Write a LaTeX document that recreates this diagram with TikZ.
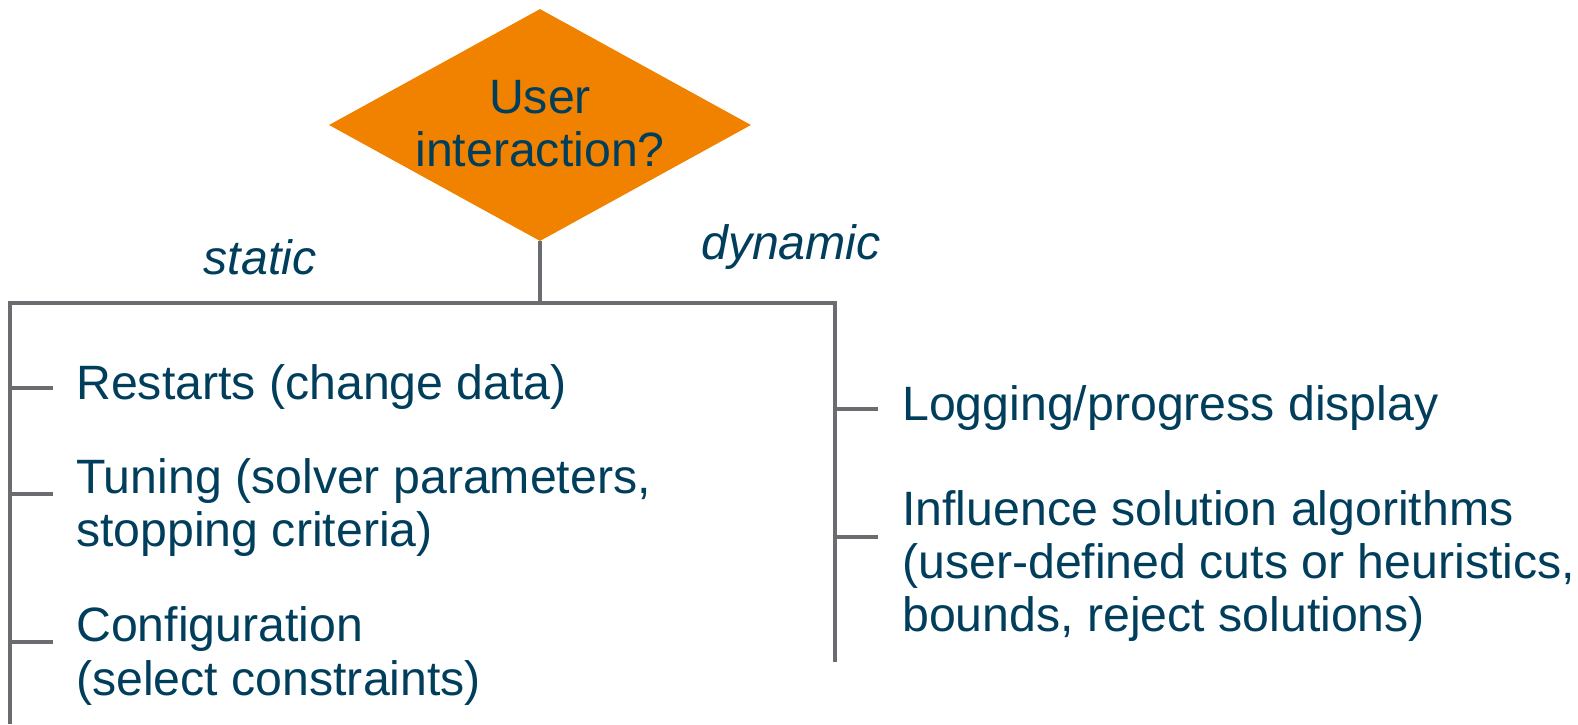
\documentclass[tikz,border=0pt]{standalone}
\usepackage{fontspec}
\setmainfont{Liberation Sans}
\usetikzlibrary{shapes.geometric,positioning}
\definecolor{itemblue}{RGB}{0,62,92}
\definecolor{decorange}{RGB}{240,130,0}
\definecolor{treegray}{RGB}{108,108,112}
\tikzset{
  decision/.style={diamond,fill=decorange,inner sep=0pt,
    minimum width=10.55cm,minimum height=5.8cm},
  item/.style={anchor=west,inner sep=0pt,align=left,text=itemblue,
    font=\fontsize{34.3}{37.7}\selectfont},
  branch/.style={draw=treegray,line width=0.085cm}
}

\begin{document}
\begin{tikzpicture}[
  x=0.025cm,y=-0.025cm,
  kind/.style={item,anchor=center,font=\fontsize{34.3}{37.7}\selectfont\itshape}
]
  \useasboundingbox (0,0) rectangle (1578,724);
  \node[decision] (interaction) at (540,125) {};
  \node[item,anchor=center,align=center] (question) at (540,124) {User\\interaction?};
  \node[kind] (static) at (260,257) {static};
  \node[kind] (dynamic) at (791,247) {dynamic};
  \node[item] (restarts) at (76,387) {Restarts (change data)};
  \node[item] (tuning) at (76,508) {Tuning (solver parameters,\\stopping criteria)};
  \node[item] (configuration) at (76,656) {Configuration\\(select constraints)};
  \node[item] (logging) at (902,408) {Logging/progress display};
  \node[item] (influence) at (902,566) {Influence solution algorithms\\(user-defined cuts or heuristics,\\bounds, reject solutions)};
  \coordinate (split) at (540,303);
  \coordinate (staticend) at (10,724);
  \coordinate (dynamicend) at (835,662);
  \coordinate (restartstick) at (53,388);
  \coordinate (tuningtick) at (53,494);
  \coordinate (configurationtick) at (53,642);
  \coordinate (loggingtick) at (878,409);
  \coordinate (influencetick) at (878,537);
  \draw[branch] (interaction.south) -- (split);
  \draw[branch] (staticend) |- (split) -| (dynamicend);
  \draw[branch] (staticend |- restartstick) -- (restartstick);
  \draw[branch] (staticend |- tuningtick) -- (tuningtick);
  \draw[branch] (staticend |- configurationtick) -- (configurationtick);
  \draw[branch] (dynamicend |- loggingtick) -- (loggingtick);
  \draw[branch] (dynamicend |- influencetick) -- (influencetick);
\end{tikzpicture}
\end{document}
